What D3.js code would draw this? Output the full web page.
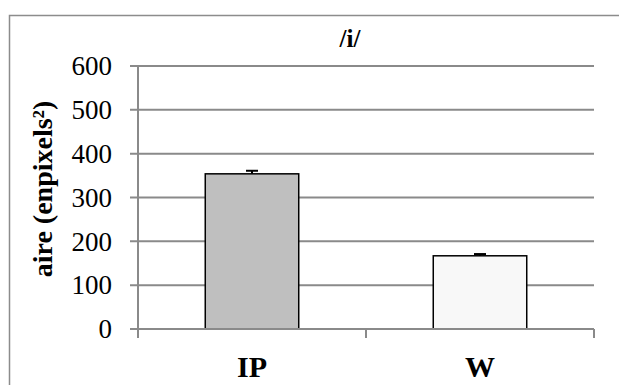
<!DOCTYPE html>
<html>
<head>
<meta charset="UTF-8" />
<title>/i/</title>
<script src="https://cdn.jsdelivr.net/npm/d3@7"></script>
<style>
body{margin:0;background:#fff;}
svg{display:block;}
text{font-family:"Liberation Serif","Times New Roman",serif;fill:#000;}
</style>
</head>
<body>
<div id="chart"></div>
<script type="text/javascript">
var w=619,h=385;

// data
var categories=['IP','W'];
var values=[354,167];
var errors=[7,4];
var fills=['#bfbfbf','#f8f8f8'];
var yTicks=[0,100,200,300,400,500,600];

var plotLeft=138,plotRight=594,plotTop=66,plotBottom=329;
var gridColor='#8a8a8a';

var svg=d3.select('#chart')
          .append('svg')
          .attr('width',w)
          .attr('height',h);

// outer frame
svg.append('rect')
   .attr('x',9.5).attr('y',15.5)
   .attr('width',w).attr('height',h)
   .attr('fill','none')
   .attr('stroke','#8c8c8c')
   .attr('stroke-width',1.5);

var y=d3.scaleLinear().domain([0,600]).range([plotBottom,plotTop]);
var x=d3.scaleBand().domain(categories).range([plotLeft,plotRight]).padding(0);

// gridlines + left ticks
svg.selectAll('.grid')
   .data(yTicks)
   .enter()
   .append('line')
   .attr('x1',plotLeft-8).attr('x2',plotRight)
   .attr('y1',function(d){return y(d);})
   .attr('y2',function(d){return y(d);})
   .attr('stroke',gridColor)
   .attr('stroke-width',2);

// y axis line
svg.append('line')
   .attr('x1',plotLeft).attr('x2',plotLeft)
   .attr('y1',plotTop).attr('y2',plotBottom+9)
   .attr('stroke',gridColor).attr('stroke-width',2);

// x ticks at band edges
var edges=categories.map(function(c){return x(c);}).concat([plotRight]);
svg.selectAll('.xtick')
   .data(edges)
   .enter()
   .append('line')
   .attr('x1',function(d){return d;}).attr('x2',function(d){return d;})
   .attr('y1',plotBottom).attr('y2',plotBottom+9)
   .attr('stroke',gridColor).attr('stroke-width',2);

// y tick labels
svg.selectAll('.ylab')
   .data(yTicks)
   .enter()
   .append('text')
   .attr('x',112)
   .attr('y',function(d){return y(d);})
   .attr('dy','0.34em')
   .attr('text-anchor','end')
   .attr('font-size',27)
   .text(function(d){return d;});

// bars
var bw=x.bandwidth()*0.41;
svg.selectAll('.bar')
   .data(values)
   .enter()
   .append('rect')
   .attr('x',function(d,i){return x(categories[i])+x.bandwidth()/2-bw/2;})
   .attr('y',function(d){return y(d);})
   .attr('width',bw)
   .attr('height',function(d){return plotBottom-y(d);})
   .attr('fill',function(d,i){return fills[i];})
   .attr('stroke','#000')
   .attr('stroke-width',1.5);

// redraw baseline over the bars
svg.append('line')
   .attr('x1',plotLeft-8).attr('x2',plotRight)
   .attr('y1',plotBottom).attr('y2',plotBottom)
   .attr('stroke',gridColor).attr('stroke-width',2);

// error bars
values.forEach(function(v,i){
  var cx=x(categories[i])+x.bandwidth()/2;
  svg.append('line')
     .attr('x1',cx).attr('x2',cx)
     .attr('y1',y(v)).attr('y2',y(v+errors[i]))
     .attr('stroke','#000').attr('stroke-width',2);
  svg.append('line')
     .attr('x1',cx-6).attr('x2',cx+6)
     .attr('y1',y(v+errors[i])).attr('y2',y(v+errors[i]))
     .attr('stroke','#000').attr('stroke-width',2);
});

// category labels
svg.selectAll('.xlab')
   .data(categories)
   .enter()
   .append('text')
   .attr('x',function(d){return x(d)+x.bandwidth()/2;})
   .attr('y',377)
   .attr('text-anchor','middle')
   .attr('font-size',30)
   .attr('font-weight','bold')
   .text(function(d){return d;});

// title
svg.append('text')
   .attr('x',350).attr('y',47)
   .attr('text-anchor','middle')
   .attr('font-size',25)
   .attr('font-weight','bold')
   .text('/i/');

// y axis title
svg.append('text')
   .attr('transform','translate(52,189) rotate(-90)')
   .attr('text-anchor','middle')
   .attr('font-size',28)
   .attr('font-weight','bold')
   .text('aire (enpixels\u00b2)');
</script>
</body>
</html>
